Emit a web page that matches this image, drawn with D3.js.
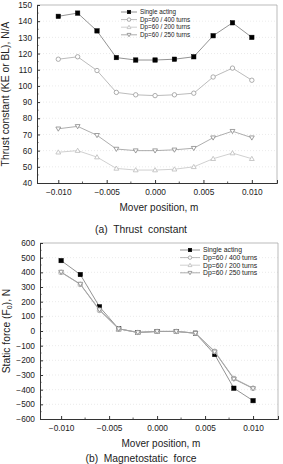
<!DOCTYPE html>
<html>
<head>
<meta charset="utf-8">
<script src="https://cdn.jsdelivr.net/npm/d3@7"></script>
<style>
  body { margin: 0; background: #fff; }
  text { font-family: Arial, "Liberation Sans", sans-serif; fill: #222; }
</style>
</head>
<body>
<svg id="chart" width="283" height="464"></svg>
<script>
var positions = [-0.010, -0.008, -0.006, -0.004, -0.002, 0.000, 0.002, 0.004, 0.006, 0.008, 0.010];

// (a) thrust constant, N/A
var thrustSingle = [143, 145, 134, 117.5, 116, 116, 116.5, 118, 131, 139, 130];
var thrust400 = [116.5, 118, 109.5, 96, 94.5, 94, 94.5, 95.5, 105.5, 111, 103.5];
var thrust200 = [59, 60, 56, 49, 48, 48, 48.5, 50, 55, 58.5, 55];
var thrust250 = [73.5, 75, 69.5, 61, 60, 60, 60.5, 61.5, 68, 72, 68];

// (b) static force, N
var forceSingle = [480, 385, 165, 15, -10, -3, -3, -15, -160, -390, -475];
var force400 = [400, 318, 140, 15, -10, -3, -3, -15, -138, -323, -390];
var force200 = [400, 318, 142, 15, -10, -3, -3, -15, -140, -325, -390];
var force250 = [402, 320, 145, 15, -10, -3, -3, -15, -142, -327, -392];

var seriesNames = ["Single acting", "Dp=60 / 400 turns", "Dp=60 / 200 turns", "Dp=60 / 250 turns"];
var xTicks = [-0.010, -0.005, 0.000, 0.005, 0.010];
var thrustTicks = [40, 50, 60, 70, 80, 90, 100, 110, 120, 130, 140, 150];
var forceTicks = [-600, -500, -400, -300, -200, -100, 0, 100, 200, 300, 400, 500, 600];

var styles = [
  {shape: "square", fill: "#000", stroke: "#000", line: "#777"},
  {shape: "circle", fill: "#fff", stroke: "#999", line: "#aaa"},
  {shape: "up", fill: "#fff", stroke: "#bbb", line: "#c4c4c4"},
  {shape: "down", fill: "#fff", stroke: "#888", line: "#999"}
];

var svg = d3.select("#chart");
var fmtX = d3.format(".3f");

function marker(g, shape, x, y, st, s) {
  if (shape == "square") {
    g.append("rect").attr("x", x - s).attr("y", y - s).attr("width", 2 * s).attr("height", 2 * s)
      .attr("fill", st.fill).attr("stroke", st.stroke).attr("stroke-width", 0.5);
  } else if (shape == "circle") {
    g.append("circle").attr("cx", x).attr("cy", y).attr("r", s)
      .attr("fill", st.fill).attr("stroke", st.stroke).attr("stroke-width", 0.8);
  } else {
    var d = shape == "up" ? 1 : -1;
    var pts = [[x, y - d * s * 1.1], [x - s * 1.1, y + d * s * 0.8], [x + s * 1.1, y + d * s * 0.8]];
    g.append("path").attr("d", "M" + pts.join("L") + "Z")
      .attr("fill", st.fill).attr("stroke", st.stroke).attr("stroke-width", 0.8);
  }
}

function drawPanel(o) {
  var g = svg.append("g");
  var x = d3.scaleLinear().domain([-0.0122, 0.0126]).range([o.left, o.right]);
  var y = d3.scaleLinear().domain(o.yDomain).range([o.bottom, o.top]);

  // dotted grid
  g.selectAll("line.gy").data(o.yTicks.slice(1, -1)).enter().append("line")
    .attr("x1", o.left).attr("x2", o.right)
    .attr("y1", d => y(d)).attr("y2", d => y(d))
    .attr("stroke", "#ddd").attr("stroke-width", 0.6).attr("stroke-dasharray", "1,2");

  // frame
  g.append("line").attr("x1", o.left).attr("x2", o.right).attr("y1", o.top).attr("y2", o.top)
    .attr("stroke", "#aaa").attr("stroke-width", 0.8);
  g.append("line").attr("x1", o.right).attr("x2", o.right).attr("y1", o.top).attr("y2", o.bottom)
    .attr("stroke", "#aaa").attr("stroke-width", 0.8);

  var xAxis = d3.axisBottom(x).tickValues(xTicks).tickSize(-3).tickPadding(6).tickFormat(fmtX);
  var gx = g.append("g").attr("transform", "translate(0," + o.bottom + ")").call(xAxis);
  gx.select(".domain").attr("stroke", "#333").attr("stroke-width", 1);
  gx.selectAll(".tick line").attr("stroke", "#333");
  gx.selectAll("text").attr("font-size", 8.3).attr("fill", "#333");
  // minor x ticks
  g.selectAll("line.mx").data([-0.0075, -0.0025, 0.0025, 0.0075]).enter().append("line")
    .attr("x1", d => x(d)).attr("x2", d => x(d)).attr("y1", o.bottom).attr("y2", o.bottom - 1.5)
    .attr("stroke", "#333").attr("stroke-width", 0.8);

  var yAxis = d3.axisLeft(y).tickValues(o.yTicks).tickSize(-3).tickPadding(5);
  var gy = g.append("g").attr("transform", "translate(" + o.left + ",0)").call(yAxis);
  gy.select(".domain").attr("stroke", "#333").attr("stroke-width", 1);
  gy.selectAll(".tick line").attr("stroke", "#333");
  gy.selectAll("text").attr("font-size", 8.3).attr("fill", "#333");
  // minor y ticks
  var minor = [];
  for (var i = 0; i < o.yTicks.length - 1; i++) minor.push((o.yTicks[i] + o.yTicks[i + 1]) / 2);
  g.selectAll("line.my").data(minor).enter().append("line")
    .attr("x1", o.left).attr("x2", o.left + 1.5).attr("y1", d => y(d)).attr("y2", d => y(d))
    .attr("stroke", "#333").attr("stroke-width", 0.8);

  // series; the open markers go over the squares where they meet
  var line = d3.line().x((d, i) => x(positions[i])).y(d => y(d));
  o.series.forEach(function(vals, k) {
    var st = styles[k];
    g.append("path").datum(vals).attr("d", line)
      .attr("fill", "none").attr("stroke", st.line).attr("stroke-width", 0.8);
    vals.forEach(function(v, i) {
      marker(g, st.shape, x(positions[i]), y(v), st, o.markerSize);
    });
  });

  // legend
  seriesNames.forEach(function(name, k) {
    var ly = o.legY + k * o.legStep;
    var st = styles[k];
    g.append("line").attr("x1", o.legX).attr("x2", o.legX + o.legW).attr("y1", ly).attr("y2", ly)
      .attr("stroke", st.line).attr("stroke-width", 0.8);
    marker(g, st.shape, o.legX + o.legW / 2, ly, st, o.markerSize * 0.8);
    g.append("text").attr("x", o.legX + o.legW + 3).attr("y", ly).attr("dy", "0.35em")
      .attr("font-size", o.legFont).attr("fill", "#333").text(name);
  });

  // axis titles
  g.append("text").attr("x", (o.left + o.right) / 2 + 2).attr("y", o.bottom + 28)
    .attr("text-anchor", "middle").attr("font-size", 10).text("Mover position, m");
  g.append("text")
    .attr("transform", "translate(" + o.yTitleX + "," + (o.top + o.bottom) / 2 + ") rotate(-90)")
    .attr("text-anchor", "middle").attr("font-size", 10.3).html(o.yTitle);
  g.append("text").attr("x", 141).attr("y", o.caption)
    .attr("text-anchor", "middle").attr("font-size", 10.3).attr("xml:space", "preserve").text(o.captionText);
}

drawPanel({
  left: 37, right: 277, top: 5, bottom: 183,
  yDomain: [40, 150], yTicks: thrustTicks,
  series: [thrustSingle, thrust400, thrust200, thrust250],
  markerSize: 2.2,
  legX: 121, legY: 12, legStep: 7.6, legW: 16, legFont: 6.3,
  yTitleX: 9, yTitle: "Thrust constant (KE or BL), N/A",
  caption: 233, captionText: "(a)  Thrust  constant"
});

drawPanel({
  left: 40, right: 278, top: 243, bottom: 419,
  yDomain: [-600, 600], yTicks: forceTicks,
  series: [forceSingle, force400, force200, force250],
  markerSize: 2.2,
  legX: 180, legY: 250, legStep: 7.6, legW: 20, legFont: 6.8,
  yTitleX: 10, yTitle: "Static force (F<tspan font-size='7' dy='2'>0</tspan><tspan dy='-2'>), N</tspan>",
  caption: 462, captionText: "(b)  Magnetostatic  force"
});
</script>
</body>
</html>
